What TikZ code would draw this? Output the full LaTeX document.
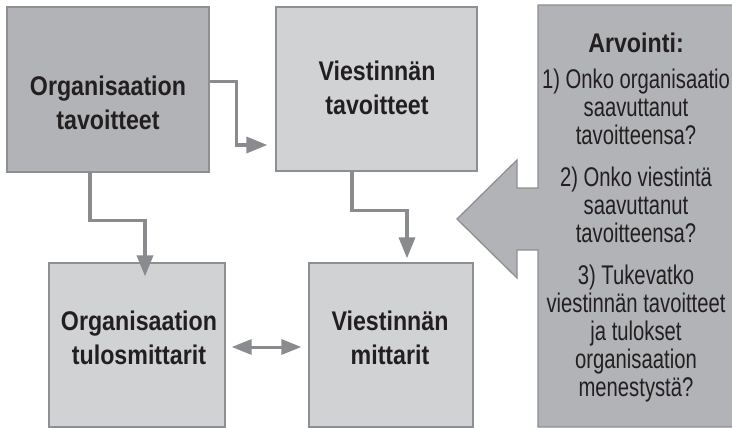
\documentclass[tikz,border=0pt]{standalone}
\usepackage{fontspec}
\usepackage{xcolor}
\usepackage{tikz}
\usetikzlibrary{arrows.meta,positioning,calc}
\newfontfamily\boxfont{Liberation Sans}[FakeStretch=0.86]
\newfontfamily\askfont{Liberation Sans}[FakeStretch=0.75]
\definecolor{darkfill}{HTML}{B2B3B6}
\definecolor{lightfill}{HTML}{D1D2D4}
\definecolor{edgegray}{HTML}{8E8F92}
\definecolor{flowgray}{HTML}{8A8B8E}
\definecolor{inkblack}{HTML}{231F20}

\begin{document}
\begin{tikzpicture}[x=1pt, y=-1pt,
    box/.style={rectangle, draw=edgegray, line width=1.3pt, inner sep=0pt},
    darkbox/.style={box, fill=darkfill},
    lightbox/.style={box, fill=lightfill},
    boxtext/.style={align=center, inner sep=0pt, text=inkblack, font=\boxfont\bfseries\fontsize{27pt}{34pt}\selectfont},
    asktext/.style={align=center, inner sep=0pt, text=inkblack, font=\askfont\fontsize{27pt}{28pt}\selectfont},
    flow/.style={draw=flowgray, line width=3.5pt, -{Triangle[length=21pt,width=16pt]}}]
    \useasboundingbox (0,0) rectangle (732,428);

    % evaluation panel with its arrow
    \draw[draw=edgegray, line width=1.3pt, fill=darkfill] (538,5) -- (740,5) -- (740,427) -- (538,427)
        -- (538,250) -- (517,250) -- (517,278) -- (457,219) -- (517,160) -- (517,188) -- (538,188) -- cycle;
    \node[asktext, anchor=north] (arvio) at (636,32.4) {{\boxfont\bfseries Arvointi:}\\[8pt]
        1) Onko organisaatio\\ saavuttanut\\ tavoitteensa?\\[14pt]
        2) Onko viestintä\\ saavuttanut\\ tavoitteensa?\\[14pt]
        3) Tukevatko\\ viestinnän tavoitteet\\ ja tulokset\\ organisaation\\ menestystä?};

    % boxes
    \node[darkbox, minimum width=202pt, minimum height=165pt] (orgtav) at (108,89.5) {};
    \node[lightbox, minimum width=201pt, minimum height=164pt] (viestav) at (376.5,89) {};
    \node[lightbox, minimum width=176pt, minimum height=164pt] (orgmit) at (137,345) {};
    \node[lightbox, minimum width=164pt, minimum height=164pt] (viesmit) at (391,345) {};

    \node[boxtext] (orgtavtxt) at (108,102.5) {Organisaation\\tavoitteet};
    \node[boxtext] (viestavtxt) at (377,87.5) {Viestinnän\\tavoitteet};
    \node[boxtext] (orgmittxt) at (139,338) {Organisaation\\tulosmittarit};
    \node[boxtext] (viesmittxt) at (390,338) {Viestinnän\\mittarit};

    % connectors
    \draw[flow] ([yshift=8pt]orgtav.east) -- ++(27,0) |- ([xshift=-8pt,yshift=-56pt]viestav.west);
    \draw[flow] ([xshift=-18pt]orgtav.south) -- ++(0,48) -| ([xshift=8pt,yshift=-14pt]orgmit.north);
    \draw[flow] ([xshift=-24.5pt]viestav.south) -- ++(0,39) -| ([xshift=16pt,yshift=4pt]viesmit.north);
    \draw[flow, line width=3pt, {Triangle[length=20pt,width=15pt]}-{Triangle[length=20pt,width=15pt]}]
        ([xshift=6pt,yshift=-2pt]orgmit.east) -- ([xshift=-7pt,yshift=-2pt]viesmit.west);
\end{tikzpicture}
\end{document}
